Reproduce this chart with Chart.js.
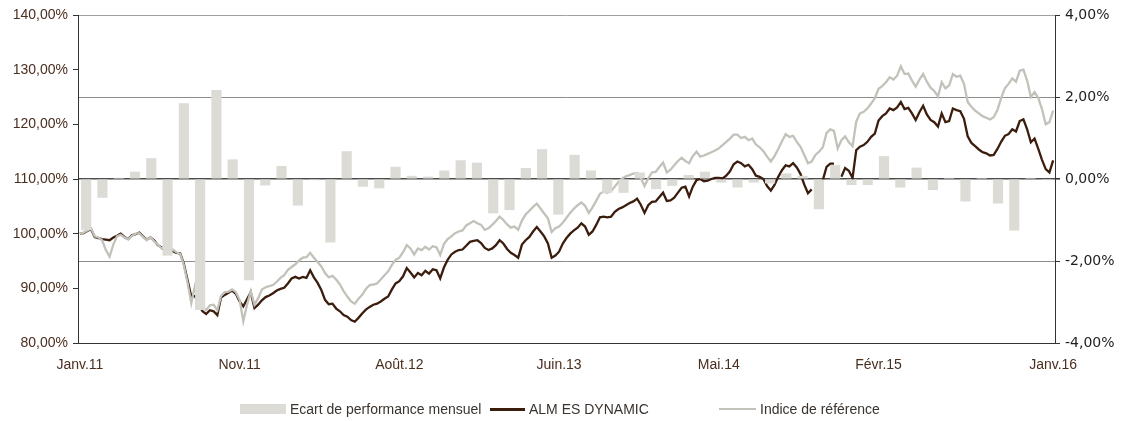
<!DOCTYPE html>
<html><head><meta charset="utf-8">
<script src="https://cdn.jsdelivr.net/npm/chart.js@4.4.1/dist/chart.umd.min.js"></script>
<style>
html,body{margin:0;padding:0;background:#fff;}
#wrap{position:relative;width:1132px;height:421px;overflow:hidden;}
#legend{position:absolute;left:0;top:400px;width:1132px;height:20px;font:14px "Liberation Sans",Arial,sans-serif;color:#3a332e;}
.item{position:absolute;top:0;height:18px;display:flex;align-items:center;white-space:nowrap;}
.sw{display:inline-block;margin-right:4px;}
</style></head><body>
<div id="wrap"><canvas id="c" width="1132" height="421"></canvas><div id="legend"></div></div>
<script>
// ---- data ----
const TICK_WEEKS = [0, 43, 86, 129, 172, 215, 262];
const TICK_LABELS = ['Janv.11', 'Nov.11', 'Août.12', 'Juin.13', 'Mai.14', 'Févr.15', 'Janv.16'];
const SERIES_NAMES = ['Ecart de performance mensuel', 'ALM ES DYNAMIC', 'Indice de référence'];

// monthly performance gap (right axis, %)
const MONTHLY_GAP = [
 -1.24,-0.45,0.02,0.17,0.50,-1.86,1.84,-3.19,2.16,0.47,
 -2.46,-0.15,0.31,-0.64,-0.02,-1.54,0.67,-0.18,-0.22,0.29,
 0.07,0.05,0.20,0.45,0.39,-0.83,-0.75,0.26,0.72,-0.86,
 0.58,0.20,-0.33,-0.33,0.15,-0.24,-0.16,0.09,0.17,-0.08,
 -0.20,-0.08,-0.10,0.13,0.07,-0.73,0.33,-0.14,-0.14,0.55,
 -0.20,0.27,-0.26,0.02,-0.54,0.02,-0.59,-1.25,0.02,-0.02
];

// weekly fund value (left axis, %)
const ALM = [
 100.0,100.1,100.5,100.8,99.4,99.2,99.0,98.9,98.8,99.3,
 99.6,100.0,99.4,99.0,99.7,99.9,100.2,99.5,98.9,99.3,
 98.8,97.9,97.5,96.9,97.2,96.8,96.5,96.4,94.5,91.5,
 88.5,88.6,87.0,85.8,85.3,86.0,85.8,85.1,88.3,88.8,
 89.2,89.6,89.0,87.6,86.7,88.0,89.3,86.4,87.0,87.8,
 88.4,88.7,89.1,89.6,89.9,90.1,90.9,91.8,92.1,91.8,
 92.1,91.9,93.3,92.0,91.0,89.7,87.9,87.1,87.2,86.3,
 85.8,85.1,84.8,84.2,83.9,84.6,85.4,86.1,86.6,87.0,
 87.2,87.6,88.1,88.5,89.8,90.9,91.3,92.2,93.7,92.9,
 92.0,92.8,92.4,93.2,92.7,93.5,93.3,91.8,93.8,95.2,
 96.2,96.7,97.0,97.1,97.8,98.5,98.7,98.8,98.3,97.4,
 97.0,97.3,97.9,98.8,98.2,97.2,96.5,96.1,95.6,98.0,
 98.8,99.4,100.4,101.2,100.4,99.5,98.2,95.6,96.0,96.7,
 98.2,99.2,100.0,100.6,101.1,101.9,101.3,99.8,100.4,101.6,
 103.0,103.1,103.0,103.1,104.0,104.5,104.8,105.2,105.6,105.9,
 106.4,105.3,103.8,105.2,105.8,105.9,106.7,107.5,106.0,106.1,
 106.6,107.5,108.4,108.6,106.8,108.6,109.8,110.0,109.6,109.7,
 110.0,110.2,110.2,110.1,110.6,111.4,112.7,113.2,112.9,112.3,
 112.6,111.8,110.6,110.4,110.0,108.7,107.9,108.9,110.4,111.6,
 112.5,112.3,112.9,112.1,110.9,109.0,107.4,108.1,null,null,
 109.8,112.2,112.8,112.8,null,110.4,112.0,111.5,110.2,115.3,
 115.9,116.2,116.8,117.7,118.3,120.7,121.5,122.0,122.9,122.6,
 123.1,124.1,122.8,123.0,122.0,120.8,122.2,123.4,121.8,120.8,
 120.4,119.6,122.0,120.4,120.6,122.9,122.6,122.4,121.0,117.8,
 116.6,116.0,115.4,114.9,114.7,114.3,114.4,115.5,116.8,117.9,
 118.2,119.1,118.7,120.6,120.9,119.1,116.7,117.4,115.5,113.5,
 111.8,111.2,113.4
];

// weekly benchmark value (left axis, %)
const INDEX = [
 100.0,100.2,100.6,101.0,99.5,99.3,98.8,97.0,95.8,98.0,
 99.5,99.8,99.3,99.0,99.6,100.0,100.1,99.4,98.8,99.4,
 98.6,98.0,97.3,97.6,97.4,97.1,96.6,96.3,94.2,91.0,
 87.3,90.5,88.4,86.5,86.0,86.9,87.0,86.0,88.6,89.3,
 89.4,89.8,89.3,87.9,84.0,87.0,89.5,87.0,88.2,89.8,
 90.2,90.4,90.6,91.2,91.9,92.4,93.4,93.9,94.4,95.1,
 95.6,95.7,96.5,95.6,94.8,94.0,92.8,92.0,92.3,91.6,
 90.7,89.5,88.5,87.6,87.2,88.1,88.8,89.9,90.6,90.7,
 90.9,91.6,92.4,93.1,94.3,95.2,95.6,96.6,97.9,97.3,
 96.2,97.3,97.0,97.6,97.1,97.7,97.5,96.1,98.1,99.0,
 99.5,100.1,100.4,100.6,101.5,101.9,102.3,101.9,101.6,100.7,
 101.0,101.6,102.3,103.1,102.5,101.7,101.1,101.3,100.7,102.4,
 103.5,104.2,104.9,105.5,104.6,103.7,102.8,100.3,101.0,101.3,
 102.0,102.9,103.8,104.6,105.2,105.7,105.1,103.8,104.8,106.0,
 107.3,107.7,107.5,107.8,108.6,109.5,110.1,110.5,110.7,111.0,
 111.1,110.2,108.7,110.1,111.2,111.3,112.2,113.0,111.2,111.7,
 112.5,113.3,113.9,113.3,112.9,114.2,115.0,114.1,114.3,114.6,
 114.9,115.2,115.6,116.2,116.8,117.4,118.1,118.1,117.5,117.7,
 117.1,117.4,116.3,115.8,115.1,114.1,113.2,114.2,115.5,116.9,
 118.2,117.7,117.9,116.8,115.9,114.4,112.9,113.2,114.4,115.0,
 115.8,118.4,119.1,118.8,115.6,117.1,117.8,116.7,116.0,120.5,
 122.0,122.3,122.9,123.8,124.8,126.5,127.0,127.7,128.6,128.2,
 128.9,130.6,129.2,129.3,128.0,126.9,128.2,129.2,127.8,126.7,
 126.1,125.1,127.7,126.6,127.1,129.2,128.7,128.9,127.4,124.1,
 123.2,122.5,122.0,121.5,121.2,120.9,121.3,122.6,124.8,126.6,
 127.4,128.4,127.8,129.8,130.0,128.0,125.0,125.9,124.8,122.8,
 120.0,120.4,122.5
];

// ---- chart ----
const N = ALM.length;
const COLORS = { bar: '#dcdbd6', alm: '#3b1d0e', idx: '#c2c1ba' };
const pct = v => Number(v).toFixed(2).replace('.', ',') + '%';

Chart.defaults.font.family = '"Liberation Sans", Arial, sans-serif';

new Chart(document.getElementById('c'), {
  data: {
    datasets: [
      {
        type: 'bar', label: SERIES_NAMES[0], order: 0,
        xAxisID: 'x', yAxisID: 'y2',
        data: MONTHLY_GAP.map((v, i) => ({ x: (i + 0.5) * N / MONTHLY_GAP.length - 0.5, y: v })),
        backgroundColor: COLORS.bar, borderWidth: 0, barThickness: 9.5
      },
      {
        type: 'line', label: SERIES_NAMES[2], order: 1,
        xAxisID: 'x', yAxisID: 'y',
        data: INDEX.map((v, i) => ({ x: i, y: v })),
        borderColor: COLORS.idx, borderWidth: 2.3, pointRadius: 0, tension: 0, spanGaps: false
      },
      {
        type: 'line', label: SERIES_NAMES[1], order: 2,
        xAxisID: 'x', yAxisID: 'y',
        data: ALM.map((v, i) => ({ x: i, y: v })),
        borderColor: COLORS.alm, borderWidth: 2.3, pointRadius: 0, tension: 0, spanGaps: false
      }
    ]
  },
  options: {
    responsive: false, animation: false, devicePixelRatio: 1, events: [],
    layout: { padding: { top: 15, left: 0, right: 0, bottom: 0 } },
    plugins: { legend: { display: false }, tooltip: { enabled: false } },
    scales: {
      x: {
        type: 'linear', position: 'bottom', min: -0.5, max: N - 0.5, offset: false,
        afterBuildTicks: s => { s.ticks = TICK_WEEKS.map(v => ({ value: v })); },
        afterFit: s => { s.height = 78; },
        ticks: {
          autoSkip: false, maxRotation: 0, padding: 14,
          color: '#4a2e1e', font: { size: 14 },
          callback: v => TICK_LABELS[TICK_WEEKS.indexOf(v)]
        },
        grid: { display: false, drawTicks: false, offset: false },
        border: { display: true, color: '#333333', width: 1 }
      },
      y: {
        position: 'left', min: 80, max: 140,
        afterFit: s => { s.width = 78; },
        ticks: { stepSize: 10, padding: 5, color: '#4a2e1e', font: { size: 14 }, callback: pct },
        grid: { drawOnChartArea: false, drawTicks: true, tickLength: 5, tickColor: '#333333' },
        border: { display: true, color: '#333333', width: 1 }
      },
      y2: {
        position: 'right', min: -4, max: 4,
        afterFit: s => { s.width = 77; },
        ticks: { stepSize: 2, padding: 5, color: '#1e1e1e', font: { size: 14, family: '"DejaVu Sans", Verdana, sans-serif' }, callback: pct },
        grid: {
          drawOnChartArea: true, drawTicks: true, tickLength: 5, tickColor: '#333333',
          color: c => c.tick && c.tick.value === 0 ? '#4d4d4d' : (c.tick && c.tick.value === 4 ? '#a0a0a0' : '#8c8c8c'),
          lineWidth: c => c.tick && c.tick.value === 0 ? 1.6 : 1
        },
        border: { display: true, color: '#333333', width: 1 }
      }
    }
  }
});

// ---- legend (HTML, text from SERIES_NAMES) ----
const legend = document.getElementById('legend');
const legendItems = [
  { left: 240, sw: 'width:46px;height:10px;background:' + COLORS.bar },
  { left: 490, sw: 'width:35px;height:3px;background:' + COLORS.alm },
  { left: 719, sw: 'width:37px;height:2px;background:' + COLORS.idx }
];
legendItems.forEach((it, i) => {
  const d = document.createElement('div');
  d.className = 'item';
  d.style.left = it.left + 'px';
  const s = document.createElement('span');
  s.className = 'sw'; s.style.cssText += it.sw;
  d.appendChild(s);
  d.appendChild(document.createTextNode(SERIES_NAMES[i]));
  legend.appendChild(d);
});
</script>
</body></html>
